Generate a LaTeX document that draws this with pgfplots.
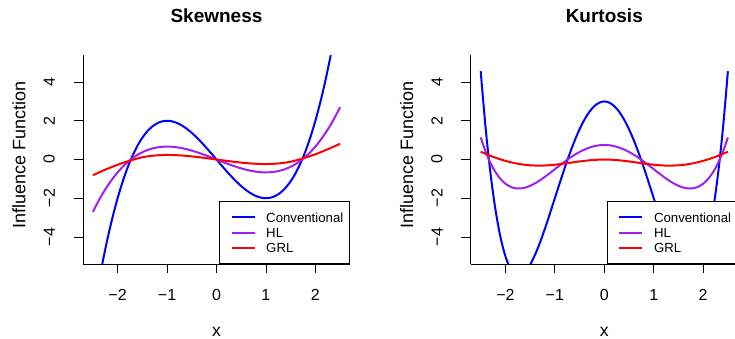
\documentclass[border=0pt]{standalone}
\usepackage{pgfplots}
\usepackage{pgfplotstable}
\pgfplotsset{compat=1.18}
\usepackage{fontspec}
\setmainfont{Liberation Sans}
\definecolor{hlpurple}{HTML}{A020F0}

% Third-order influence functions on a grid of x values
\pgfplotstableread{
x conv hl
-2.5 -8.125 -2.708
-2.4 -6.624 -2.208
-2.3 -5.267 -1.756
-2.2 -4.048 -1.349
-2.1 -2.961 -0.987
-2.0 -2.000 -0.667
-1.9 -1.159 -0.386
-1.8 -0.432 -0.144
-1.7 0.187 0.062
-1.6 0.704 0.235
-1.5 1.125 0.375
-1.4 1.456 0.485
-1.3 1.703 0.568
-1.2 1.872 0.624
-1.1 1.969 0.656
-1.0 2.000 0.667
-0.9 1.971 0.657
-0.8 1.888 0.629
-0.7 1.757 0.586
-0.6 1.584 0.528
-0.5 1.375 0.458
-0.4 1.136 0.379
-0.3 0.873 0.291
-0.2 0.592 0.197
-0.1 0.299 0.100
0.0 0.000 0.000
0.1 -0.299 -0.100
0.2 -0.592 -0.197
0.3 -0.873 -0.291
0.4 -1.136 -0.379
0.5 -1.375 -0.458
0.6 -1.584 -0.528
0.7 -1.757 -0.586
0.8 -1.888 -0.629
0.9 -1.971 -0.657
1.0 -2.000 -0.667
1.1 -1.969 -0.656
1.2 -1.872 -0.624
1.3 -1.703 -0.568
1.4 -1.456 -0.485
1.5 -1.125 -0.375
1.6 -0.704 -0.235
1.7 -0.187 -0.062
1.8 0.432 0.144
1.9 1.159 0.386
2.0 2.000 0.667
2.1 2.961 0.987
2.2 4.048 1.349
2.3 5.267 1.756
2.4 6.624 2.208
2.5 8.125 2.708
}\skewtab

\pgfplotstableread{
x grl
-2.5 -0.81
-2.25 -0.53
-2.0 -0.27
-1.75 -0.06
-1.5 0.115
-1.25 0.205
-1.0 0.235
-0.75 0.215
-0.5 0.16
-0.25 0.085
0.0 0.0
0.25 -0.085
0.5 -0.16
0.75 -0.215
1.0 -0.235
1.25 -0.205
1.5 -0.115
1.75 0.06
2.0 0.27
2.25 0.53
2.5 0.81
}\skewgrl

% Fourth-order influence functions
\pgfplotstableread{
x conv hl
-2.5 4.5625 1.141
-2.4 1.6176 0.404
-2.3 -0.7559 -0.189
-2.2 -2.6144 -0.654
-2.1 -4.0119 -1.003
-2.0 -5.0000 -1.250
-1.9 -5.6279 -1.407
-1.8 -5.9424 -1.486
-1.7 -5.9879 -1.497
-1.6 -5.8064 -1.452
-1.5 -5.4375 -1.359
-1.4 -4.9184 -1.230
-1.3 -4.2839 -1.071
-1.2 -3.5664 -0.892
-1.1 -2.7959 -0.699
-1.0 -2.0000 -0.500
-0.9 -1.2039 -0.301
-0.8 -0.4304 -0.108
-0.7 0.3001 0.075
-0.6 0.9696 0.242
-0.5 1.5625 0.391
-0.4 2.0656 0.516
-0.3 2.4681 0.617
-0.2 2.7616 0.690
-0.1 2.9401 0.735
0.0 3.0000 0.750
0.1 2.9401 0.735
0.2 2.7616 0.690
0.3 2.4681 0.617
0.4 2.0656 0.516
0.5 1.5625 0.391
0.6 0.9696 0.242
0.7 0.3001 0.075
0.8 -0.4304 -0.108
0.9 -1.2039 -0.301
1.0 -2.0000 -0.500
1.1 -2.7959 -0.699
1.2 -3.5664 -0.892
1.3 -4.2839 -1.071
1.4 -4.9184 -1.230
1.5 -5.4375 -1.359
1.6 -5.8064 -1.452
1.7 -5.9879 -1.497
1.8 -5.9424 -1.486
1.9 -5.6279 -1.407
2.0 -5.0000 -1.250
2.1 -4.0119 -1.003
2.2 -2.6144 -0.654
2.3 -0.7559 -0.189
2.4 1.6176 0.404
2.5 4.5625 1.141
}\kurttab

\pgfplotstableread{
x grl
-2.5 0.40
-2.25 0.14
-2.0 -0.07
-1.75 -0.22
-1.5 -0.30
-1.25 -0.315
-1.0 -0.27
-0.75 -0.19
-0.5 -0.10
-0.25 -0.03
0.0 0.0
0.25 -0.03
0.5 -0.10
0.75 -0.19
1.0 -0.27
1.25 -0.315
1.5 -0.30
1.75 -0.22
2.0 -0.07
2.25 0.14
2.5 0.40
}\kurtgrl

\pgfplotsset{
  panel/.style={
    scale only axis, width=267pt, height=209pt,
    xmin=-2.7, xmax=2.7, ymin=-5.4, ymax=5.4,
    axis x line*=bottom, axis y line*=left,
    axis line style={black, line width=0.8pt},
    xtick={-2,-1,0,1,2}, xticklabels={−2,−1,0,1,2},
    ytick={-4,-2,0,2,4}, yticklabels={−4,−2,0,2,4},
    tick align=outside, major tick length=9.5pt,
    every tick/.style={black, line width=0.8pt},
    xticklabel style={font=\fontsize{16}{16}\selectfont, anchor=north, inner sep=0pt},
    xticklabel shift=15.8pt,
    yticklabel style={font=\fontsize{16}{16}\selectfont, rotate=90, anchor=south, inner sep=0pt},
    yticklabel shift=18.5pt,
    xlabel={x}, ylabel={Influence Function},
    xlabel style={at={(axis description cs:0.5,-0.3464)}, anchor=base, inner sep=0pt,
      font=\fontsize{17.5}{17.5}\selectfont},
    ylabel style={at={(axis description cs:-0.2397,0.521)}, anchor=center, inner sep=0pt,
      font=\fontsize{18}{18}\selectfont},
    title style={at={(axis description cs:0.5,1.158)}, anchor=center, inner sep=0pt,
      font=\bfseries\fontsize{19}{19}\selectfont},
    legend cell align=left,
    legend style={at={(1,0)}, anchor=south east, draw=black, line width=0.8pt, fill=white,
      inner xsep=0pt, inner ysep=10.75pt, row sep=5.85pt, column sep=0pt,
      font=\fontsize{13.2}{13.2}\selectfont,
      nodes={inner sep=0pt, text height=9.5pt, text depth=0pt}},
    legend image code/.code={
      \path[draw=none, fill=none] (0pt,-4.75pt) (46.4pt,4.75pt);
      \draw[#1] (11.7pt,0pt) -- (34.7pt,0pt);},
    every axis plot/.append style={line width=2pt, smooth},
  }
}

\begin{document}
\begin{tikzpicture}[x=1pt,y=1pt]
\begin{axis}[panel, at={(83pt,75pt)}, anchor=south west, title={Skewness}]
  \addplot[blue] table[x=x, y=conv] {\skewtab};
  \addplot[hlpurple] table[x=x, y=hl] {\skewtab};
  \addplot[red] table[x=x, y=grl] {\skewgrl};
  \legend{Conventional\kern6.3pt, HL, GRL}
\end{axis}
\begin{axis}[panel, at={(470.8pt,75pt)}, anchor=south west, title={Kurtosis}]
  \addplot[blue] table[x=x, y=conv] {\kurttab};
  \addplot[hlpurple] table[x=x, y=hl] {\kurttab};
  \addplot[red] table[x=x, y=grl] {\kurtgrl};
  \legend{Conventional\kern6.3pt, HL, GRL}
\end{axis}
\pgfresetboundingbox
\path[use as bounding box] (0,0) rectangle (735,339);
\end{tikzpicture}
\end{document}
